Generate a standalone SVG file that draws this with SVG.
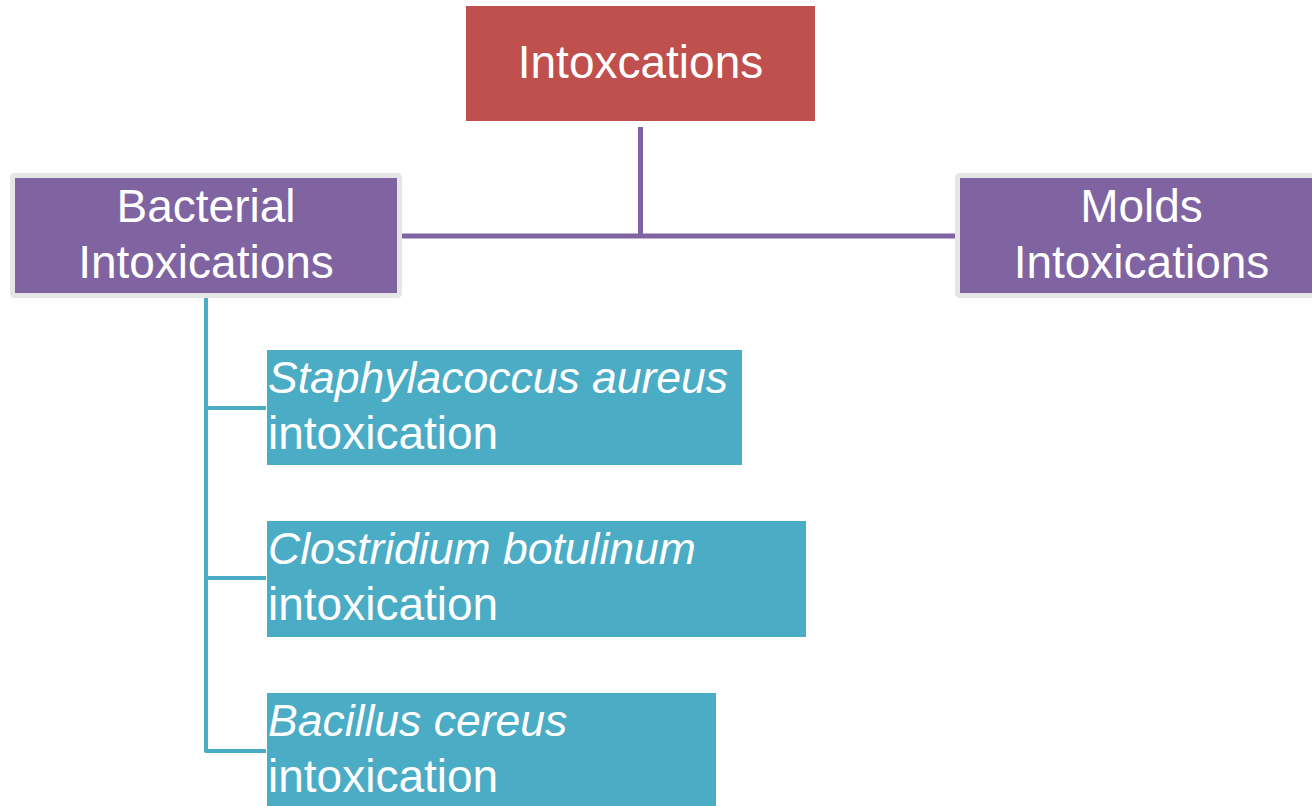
<svg xmlns="http://www.w3.org/2000/svg" width="1312" height="806" viewBox="0 0 1312 806">
<style>
text{font-family:"Liberation Sans",Arial,sans-serif;font-size:46px;fill:#fff}
.c{text-anchor:middle}
.i{font-style:italic;font-size:44.5px}
.purple{fill:#8064A2;stroke:#E6E6E6;stroke-width:5}
.teal{fill:#4BACC6}
.pl{stroke:#8064A2;stroke-width:5;fill:none}
.tl{stroke:#4BACC6;stroke-width:4;fill:none;stroke-linejoin:round}
</style>
<rect width="1312" height="806" fill="#fff"/>
<g id="connectors">
<path class="pl" d="M640.5 127V236M402 236H955"/>
<path class="tl" d="M206 298V751H266M206 408H266M206 578H266"/>
</g>
<g id="intoxcations">
<rect x="466" y="6" width="349" height="115" fill="#C0504D"/>
<text class="c" x="640.5" y="78">Intoxcations</text>
</g>
<g id="bacterial">
<rect class="purple" x="12.5" y="175.5" width="387" height="120" rx="2"/>
<text class="c" x="206" y="222">Bacterial</text>
<text class="c" x="206" y="278">Intoxications</text>
</g>
<g id="molds">
<rect class="purple" x="957.5" y="175.5" width="360" height="120" rx="2"/>
<text class="c" x="1141.5" y="222">Molds</text>
<text class="c" x="1141.5" y="278">Intoxications</text>
</g>
<g id="staph">
<rect class="teal" x="267" y="350" width="475" height="115"/>
<text class="i" x="268" y="393">Staphylacoccus aureus</text>
<text x="268" y="449">intoxication</text>
</g>
<g id="clostridium">
<rect class="teal" x="267" y="521" width="539" height="116"/>
<text class="i" x="268" y="564">Clostridium botulinum</text>
<text x="268" y="620">intoxication</text>
</g>
<g id="bacillus">
<rect class="teal" x="267" y="693" width="449" height="113"/>
<text class="i" x="268" y="736">Bacillus cereus</text>
<text x="268" y="792">intoxication</text>
</g>
</svg>
